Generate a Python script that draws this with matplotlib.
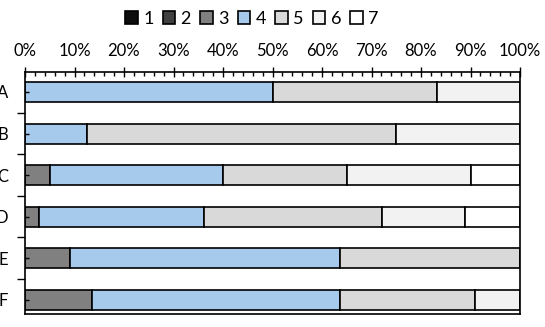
import numpy as np
import matplotlib.pyplot as plt
from matplotlib.ticker import MultipleLocator, FixedLocator, PercentFormatter

plt.rcParams['font.family'] = ['Lato', 'DejaVu Sans']

# --- data (percent of responses per rating) ---
categories = ['A', 'B', 'C', 'D', 'E', 'F']
ratings = ['1', '2', '3', '4', '5', '6', '7']
r1 = [0, 0, 0, 0, 0, 0]
r2 = [0, 0, 0, 0, 0, 0]
r3 = [0, 0, 5.0, 2.8, 9.1, 13.6]
r4 = [50.0, 12.5, 35.0, 33.3, 54.5, 50.0]
r5 = [33.3, 62.5, 25.0, 36.1, 36.4, 27.3]
r6 = [16.7, 25.0, 25.0, 16.7, 0, 9.1]
r7 = [0, 0, 10.0, 11.1, 0, 0]
series = [r1, r2, r3, r4, r5, r6, r7]
colors = ['#0d0d0d', '#404040', '#808080', '#a6caec', '#d9d9d9', '#f2f2f2', '#ffffff']

fig = plt.figure(figsize=(5.45, 3.27), dpi=100)
ax = fig.add_axes([25 / 545, 1 - 314 / 327, 495 / 545, 242 / 327])

y = np.arange(len(categories))
left = np.zeros(len(categories))
for name, vals, col in zip(ratings, series, colors):
    vals = np.array(vals)
    ax.barh(y, vals, left=left, height=0.48, color=col, edgecolor='black',
            linewidth=1.2, label=name)
    left += vals

ax.set_xlim(0, 100)
ax.set_ylim(5.34, -0.48)

# x axis on top
ax.xaxis.tick_top()
ax.xaxis.set_major_locator(MultipleLocator(10))
ax.xaxis.set_minor_locator(MultipleLocator(2))
ax.xaxis.set_major_formatter(PercentFormatter(decimals=0))
ax.tick_params(axis='x', which='major', direction='inout', length=7, width=1,
               labelsize=12, pad=6)
ax.tick_params(axis='x', which='minor', direction='in', length=3, width=1)

# y axis: labels at centers, boundary ticks outward (labels are cut at the edge)
ax.set_yticks(y)
ax.set_yticklabels(categories)
ax.yaxis.set_minor_locator(FixedLocator(y[:-1] + 0.5))
ax.tick_params(axis='y', which='major', direction='in', length=3, width=1,
               labelsize=12, pad=12)
ax.tick_params(axis='y', which='minor', direction='out', length=6, width=1)

for s in ax.spines.values():
    s.set_linewidth(1.2)

fig.legend(loc='center', bbox_to_anchor=(252 / 545, 1 - 19 / 327), ncol=7,
           frameon=False, fontsize=13, handlelength=0.7, handleheight=0.7,
           handletextpad=0.3, columnspacing=0.5, borderpad=0)

fig.savefig('out.png', dpi=100)
